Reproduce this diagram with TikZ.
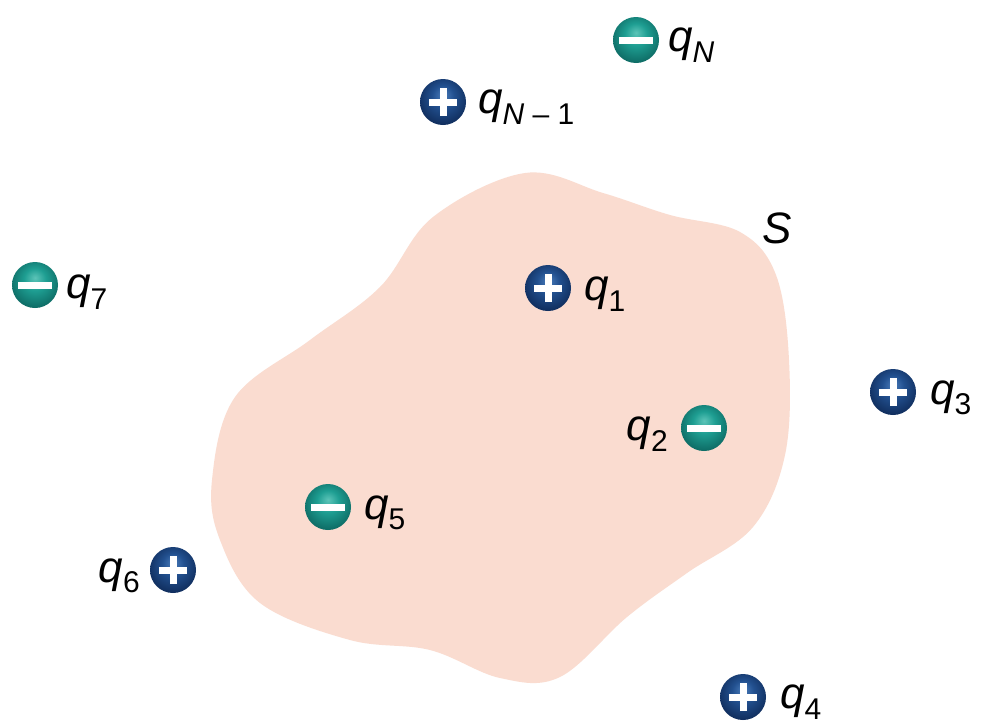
\documentclass[tikz,border=0pt]{standalone}
\usepackage{fontspec}
\setmainfont{Liberation Sans}
\usetikzlibrary{shadings}
\definecolor{blobpink}{HTML}{FADCD0}
\definecolor{posA}{HTML}{4A7CBA}
\definecolor{posB}{HTML}{22508F}
\definecolor{posC}{HTML}{0E2A58}
\definecolor{negA}{HTML}{5CC4B8}
\definecolor{negB}{HTML}{1E9E92}
\definecolor{negC}{HTML}{0C6660}
\pgfdeclareradialshading{posball}{\pgfqpoint{0bp}{8bp}}{color(0bp)=(posA); color(12bp)=(posB); color(30bp)=(posC); color(50bp)=(posC)}
\pgfdeclareradialshading{negball}{\pgfqpoint{0bp}{8bp}}{color(0bp)=(negA); color(12bp)=(negB); color(30bp)=(negC); color(50bp)=(negC)}
\newcommand{\qlab}[1]{\textit{q}\raisebox{-0.45ex}{\fontsize{30}{32}\selectfont #1}}
\tikzset{
  chg/.style={circle, minimum size=46pt, inner sep=0pt},
  poscharge/.style={chg, shading=posball},
  negcharge/.style={chg, shading=negball},
  lab/.style={font=\fontsize{44}{48}\selectfont, inner sep=0pt},
  signline/.style={white, line width=7pt}
}
\newcommand{\plussign}[1]{\draw[signline] ([xshift=-14pt]#1.center) -- ([xshift=14pt]#1.center); \draw[signline] ([yshift=-14pt]#1.center) -- ([yshift=14pt]#1.center);}
\newcommand{\minussign}[1]{\draw[signline] ([xshift=-17pt]#1.center) -- ([xshift=17pt]#1.center);}
\begin{document}
\begin{tikzpicture}[x=1pt,y=-1pt]
\useasboundingbox (0,0) rectangle (984,726);
\fill[white] (0,0) rectangle (984,726);
% surface S
\fill[blobpink] plot[smooth cycle, tension=0.6] coordinates {
 (212,480) (235,397) (310,340) (380,287) (433,217) (525,173) (603,193)
 (670,215) (740,232) (776,275) (789,360) (785,455) (753,527) (687,573)
 (627,617) (560,677) (500,678) (430,650) (350,640) (260,603) (220,540)};
\node[lab] (S) at (777,228) {\textit{S}};
% charges
\node[negcharge] (qN) at (636,40) {}; \minussign{qN}
\node[lab, anchor=west] (lN) at (668,45) {\qlab{\textit{N}}};
\node[poscharge] (qN1) at (443,102) {}; \plussign{qN1}
\node[lab, anchor=west] (lN1) at (478,107) {\qlab{\textit{N} – 1}};
\node[negcharge] (q7) at (35,285) {}; \minussign{q7}
\node[lab, anchor=west] (l7) at (66,292) {\qlab{7}};
\node[poscharge] (q1) at (548,288) {}; \plussign{q1}
\node[lab, anchor=west] (l1) at (584,294) {\qlab{1}};
\node[poscharge] (q3) at (893,392) {}; \plussign{q3}
\node[lab, anchor=west] (l3) at (930,398) {\qlab{3}};
\node[negcharge] (q2) at (704,428) {}; \minussign{q2}
\node[lab, anchor=east] (l2) at (668,434) {\qlab{2}};
\node[negcharge] (q5) at (328,507) {}; \minussign{q5}
\node[lab, anchor=west] (l5) at (364,513) {\qlab{5}};
\node[poscharge] (q6) at (173,570) {}; \plussign{q6}
\node[lab, anchor=east] (l6) at (140,576) {\qlab{6}};
\node[poscharge] (q4) at (743,697) {}; \plussign{q4}
\node[lab, anchor=west] (l4) at (780,702) {\qlab{4}};
\end{tikzpicture}
\end{document}
